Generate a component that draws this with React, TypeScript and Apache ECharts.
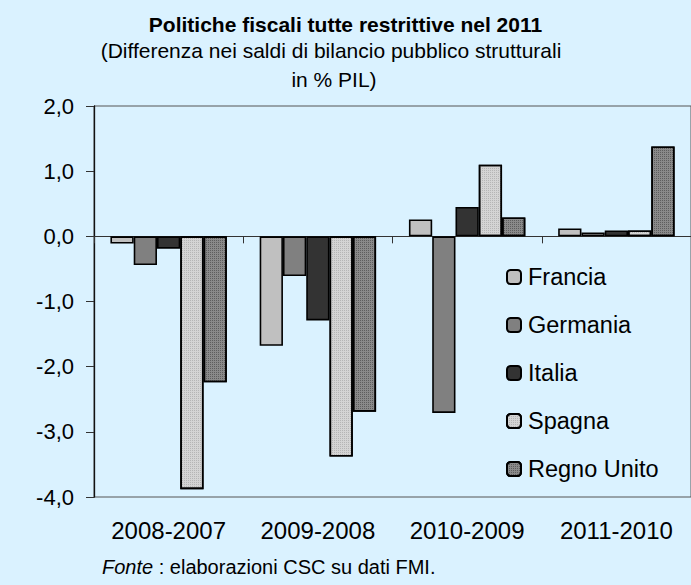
import React, { useEffect, useRef } from "react";
import * as echarts from "echarts";

const categories = ["2008-2007", "2009-2008", "2010-2009", "2011-2010"];
const francia = [-0.11, -1.68, 0.26, 0.12];
const germania = [-0.44, -0.61, -2.71, 0.06];
const italia = [-0.19, -1.29, 0.45, 0.09];
const spagna = [-3.88, -3.38, 1.1, 0.09];
const regnoUnito = [-2.24, -2.69, 0.29, 1.38];
const seriesNames = ["Francia", "Germania", "Italia", "Spagna", "Regno Unito"];
const yTicks = [-4, -3, -2, -1, 0, 1, 2];

const FONT = "'Liberation Sans', Arial, Helvetica, sans-serif";

export default function App() {
  const ref = useRef<HTMLDivElement>(null);
  useEffect(() => {
    if (!ref.current) return;
    const chart = echarts.init(ref.current, null, { renderer: "svg" });
    const border = { borderColor: "#000", borderWidth: 1.6 };
    const mk = (name: string, data: number[], color: string, decal?: any) => ({
      name,
      type: "bar",
      data,
      barGap: "0%",
      barCategoryGap: "22%",
      itemStyle: { color, ...border, ...(decal ? { decal } : {}) },
    });
    chart.setOption({
      animation: false,
      backgroundColor: "#daf2ff",
      textStyle: { fontFamily: FONT },
      title: {
        text: "Politiche fiscali tutte restrittive nel 2011",
        left: "center",
        top: 9,
        textStyle: { fontFamily: FONT, fontSize: 21, fontWeight: "bold", color: "#000" },
      },
      graphic: [
        {
          type: "text",
          x: 331,
          y: 50,
          style: {
            text: "(Differenza nei saldi di bilancio pubblico strutturali",
            font: `21px ${FONT}`,
            fill: "#000",
            align: "center",
            verticalAlign: "middle",
          },
        },
        {
          type: "text",
          x: 334,
          y: 79,
          style: {
            text: "in % PIL)",
            font: `21px ${FONT}`,
            fill: "#000",
            align: "center",
            verticalAlign: "middle",
          },
        },
        {
          type: "text",
          x: 102,
          y: 567,
          style: {
            text: "{i|Fonte} : elaborazioni CSC su dati FMI.",
            fontFamily: FONT,
            fontSize: 20,
            fill: "#000",
            verticalAlign: "middle",
            rich: { i: { fontStyle: "italic", fontFamily: FONT, fontSize: 20 } },
          },
        },
      ],
      legend: {
        orient: "vertical",
        left: 506,
        top: 265,
        padding: 0,
        itemWidth: 14,
        itemHeight: 14,
        itemGap: 24,
        data: seriesNames,
        textStyle: { fontFamily: FONT, fontSize: 23.5, lineHeight: 22, color: "#000", padding: [0, 0, 0, 2] },
      },
      grid: {
        left: 94,
        top: 106,
        width: 606,
        height: 391,
        show: true,
        borderColor: "#555",
        borderWidth: 1,
        backgroundColor: "transparent",
      },
      xAxis: [
        {
          type: "category",
          data: categories,
          position: "bottom",
          axisLine: { show: false, onZero: false },
          axisTick: { show: false },
          axisLabel: { fontFamily: FONT, fontSize: 24, color: "#000", margin: 21 },
        },
        {
          type: "category",
          data: categories,
          position: "bottom",
          axisLine: { show: true, onZero: true, lineStyle: { color: "#333", width: 1.2 } },
          axisTick: { show: true, length: 7, lineStyle: { color: "#333" } },
          axisLabel: { show: false },
        },
      ],
      yAxis: {
        type: "value",
        min: yTicks[0],
        max: yTicks[yTicks.length - 1],
        interval: 1,
        axisLine: { show: true, lineStyle: { color: "#111", width: 1.3 } },
        axisTick: { show: true, length: 8, lineStyle: { color: "#333" } },
        splitLine: { show: false },
        axisLabel: {
          fontFamily: FONT,
          fontSize: 22,
          color: "#000",
          margin: 20,
          formatter: (v: number) => v.toFixed(1).replace(".", ","),
        },
      },
      series: [
        mk(seriesNames[0], francia, "#c0c0c0"),
        mk(seriesNames[1], germania, "#808080"),
        mk(seriesNames[2], italia, "#333333"),
        mk(seriesNames[3], spagna, "#d4d4d4", {
          symbol: "rect",
          symbolSize: 1,
          dashArrayX: [1, 1],
          dashArrayY: [1, 1],
          color: "rgba(150,150,150,0.5)",
        }),
        mk(seriesNames[4], regnoUnito, "#8a8a8a", {
          symbol: "rect",
          symbolSize: 1,
          dashArrayX: [1, 1],
          dashArrayY: [1, 1],
          color: "rgba(50,50,50,0.5)",
        }),
      ],
    });
    return () => chart.dispose();
  }, []);
  return (
    <div
      ref={ref}
      style={{ position: "absolute", left: 0, top: 0, width: 691, height: 585 }}
    />
  );
}
